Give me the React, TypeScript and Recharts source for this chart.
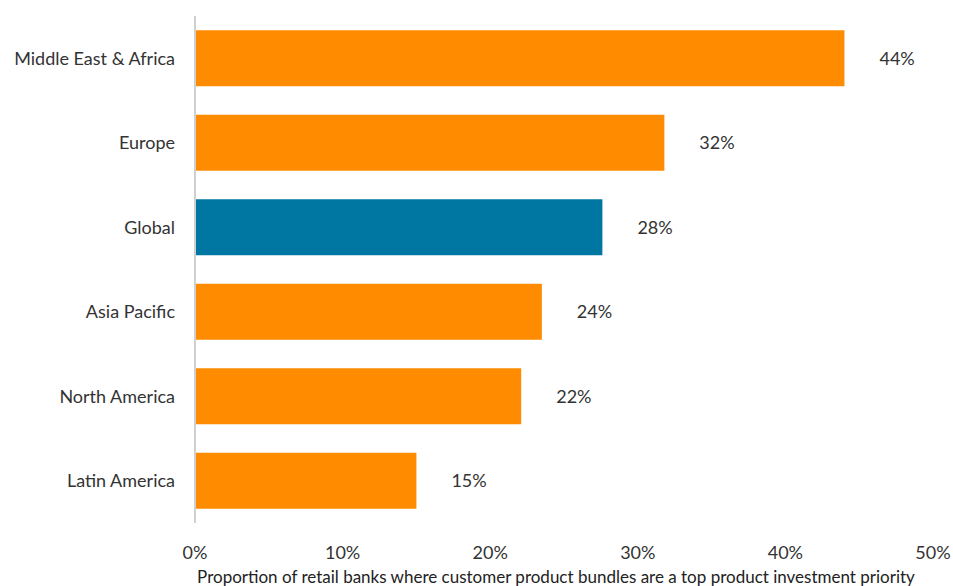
import { Bar, BarChart, Cell, LabelList, XAxis, YAxis } from "recharts";

const regions = [
  "Middle East & Africa",
  "Europe",
  "Global",
  "Asia Pacific",
  "North America",
  "Latin America",
];
const shares = [44, 31.8, 27.6, 23.5, 22.1, 15];
const xTicks = [0, 10, 20, 30, 40, 50];

const data = regions.map((region, i) => ({ region, share: shares[i] }));

const ORANGE = "#FF8C00";
const BLUE = "#0077A2";
const FONT = "Lato, 'Open Sans', sans-serif";

export default function App() {
  return (
    <div style={{ position: "absolute", left: 0, top: 0, fontFamily: FONT }}>
      <BarChart
        width={953}
        height={586}
        data={data}
        layout="vertical"
        margin={{ top: 16, right: 20, bottom: 3, left: 10 }}
        barCategoryGap="17%"
      >
        <XAxis
          type="number"
          domain={[0, 50]}
          ticks={xTicks}
          tickFormatter={(v) => `${v}%`}
          axisLine={false}
          tickLine={false}
          tick={{ fill: "#333", fontSize: 18, fontFamily: FONT }}
          tickMargin={17}
          height={60}
          interval={0}
          label={{
            value:
              "Proportion of retail banks where customer product bundles are a top product investment priority",
            position: "insideBottom",
            offset: 0,
            dx: -8,
            fill: "#222",
            fontSize: 17,
            fontFamily: FONT,
          }}
        />
        <YAxis
          type="category"
          dataKey="region"
          width={185}
          axisLine={{ stroke: "#d0d0d0", strokeWidth: 2 }}
          tickLine={false}
          tickMargin={14}
          tick={{ fill: "#333", fontSize: 18, fontFamily: FONT }}
          interval={0}
        />
        <Bar dataKey="share" isAnimationActive={false}>
          {data.map((d) => (
            <Cell key={d.region} fill={d.region === "Global" ? BLUE : ORANGE} />
          ))}
          <LabelList
            dataKey="share"
            position="right"
            offset={35}
            formatter={(v: number) => `${Math.round(v)}%`}
            style={{ fill: "#333", fontSize: 18, fontFamily: FONT }}
          />
        </Bar>
      </BarChart>
    </div>
  );
}
